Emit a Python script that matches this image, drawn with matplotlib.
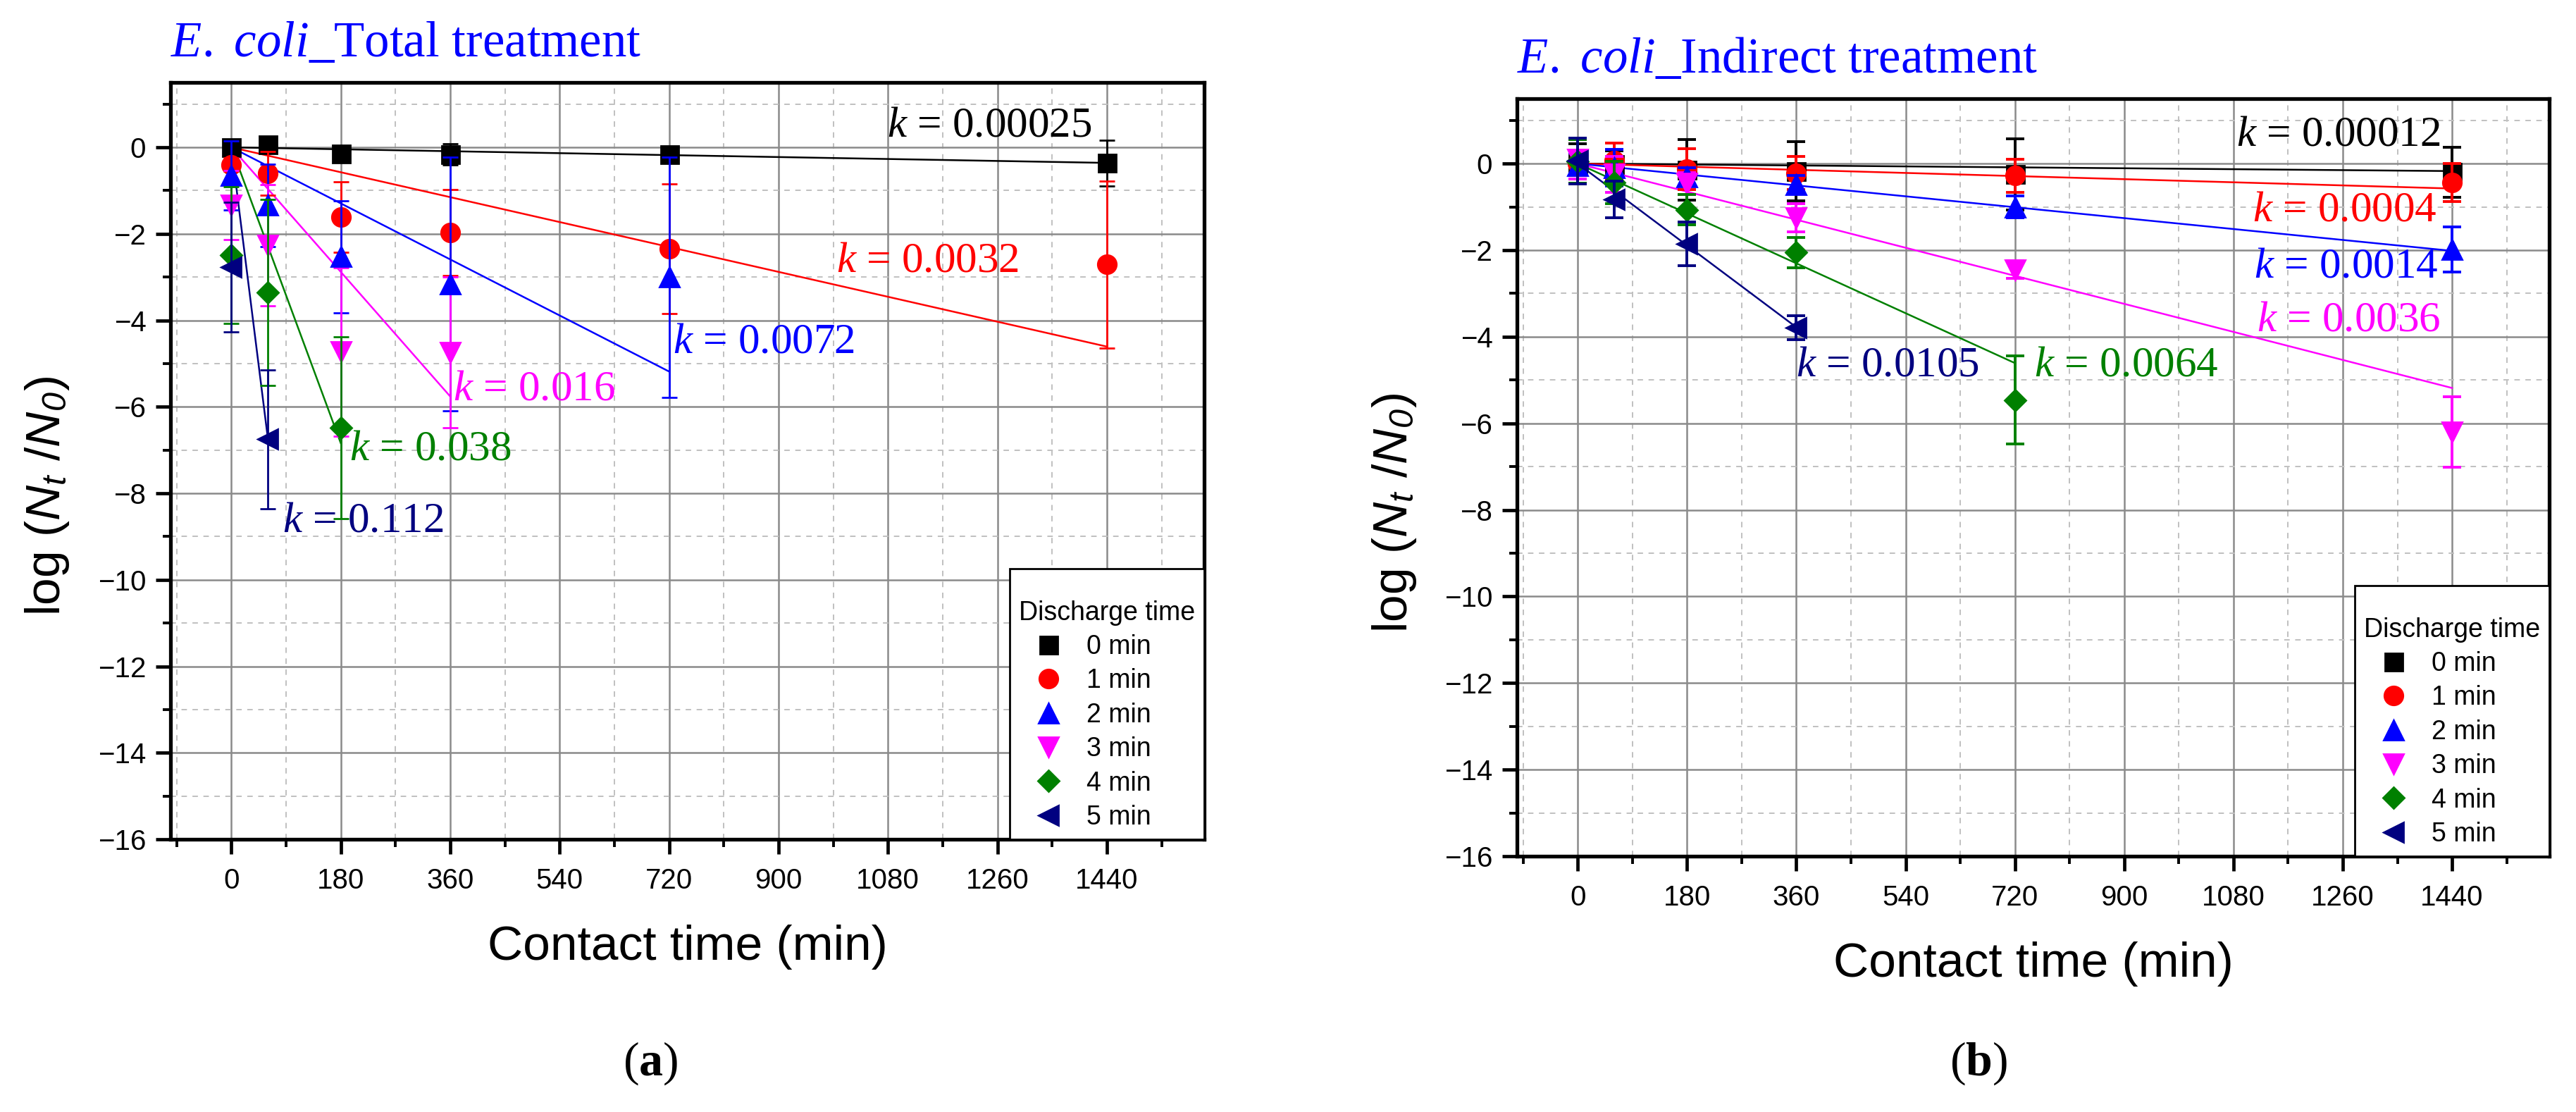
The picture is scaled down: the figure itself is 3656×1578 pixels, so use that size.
import matplotlib
matplotlib.use("Agg")
import matplotlib.pyplot as plt
from matplotlib.lines import Line2D
from matplotlib.ticker import MultipleLocator
import numpy as np

plt.rcParams['font.family'] = ['Liberation Sans', 'DejaVu Sans']
plt.rcParams['mathtext.fontset'] = 'custom'
plt.rcParams['mathtext.rm'] = 'Liberation Serif'
plt.rcParams['mathtext.it'] = 'Liberation Serif:italic'
plt.rcParams['mathtext.bf'] = 'Liberation Serif:bold'
plt.rcParams['mathtext.sf'] = 'Liberation Sans:italic'

# ---------------- data ----------------
series_names = ["0 min", "1 min", "2 min", "3 min", "4 min", "5 min"]

# (a) Total treatment
a_t = [[0, 60, 180, 360, 720, 1440],
       [0, 60, 180, 360, 720, 1440],
       [0, 60, 180, 360, 720],
       [0, 60, 180, 360],
       [0, 60, 180],
       [0, 60]]
a_y = [[0.0, 0.07, -0.15, -0.16, -0.16, -0.36],
       [-0.40, -0.60, -1.61, -1.97, -2.35, -2.71],
       [-0.65, -1.34, -2.53, -3.16, -3.00],
       [-1.34, -2.27, -4.73, -4.74],
       [-2.49, -3.36, -6.48],
       [-2.77, -6.75]]
a_err = [[0.10, 0.10, 0.10, 0.25, 0.10, 0.53],
         [0.15, 0.50, 0.82, 1.00, 1.50, 1.93],
         [0.80, 0.95, 1.30, 2.93, 2.78],
         [0.80, 1.40, 1.95, 1.75],
         [1.58, 2.15, 2.10],
         [1.50, 1.60]]
a_k = [0.00025, 0.0032, 0.0072, 0.016, 0.038, 0.112]
a_k_text = ["0.00025", "0.0032", "0.0072", "0.016", "0.038", "0.112"]

# (b) Indirect treatment
b_t = [[0, 60, 180, 360, 720, 1440],
       [0, 60, 180, 360, 720, 1440],
       [0, 60, 180, 360, 720, 1440],
       [0, 60, 180, 360, 720, 1440],
       [0, 60, 180, 360, 720],
       [0, 60, 180, 360]]
b_y = [[0.0, -0.01, -0.15, -0.18, -0.25, -0.20],
       [0.0, 0.06, -0.13, -0.22, -0.28, -0.44],
       [-0.05, -0.10, -0.30, -0.48, -1.00, -1.98],
       [0.10, -0.25, -0.46, -1.25, -2.45, -6.20],
       [0.05, -0.44, -1.07, -2.05, -5.46],
       [0.06, -0.83, -1.85, -3.79]]
b_err = [[0.45, 0.30, 0.70, 0.68, 0.82, 0.58],
         [0.28, 0.42, 0.47, 0.38, 0.38, 0.44],
         [0.30, 0.42, 0.20, 0.20, 0.25, 0.52],
         [0.45, 0.41, 0.25, 0.33, 0.20, 0.82],
         [0.50, 0.49, 0.35, 0.35, 1.02],
         [0.53, 0.42, 0.50, 0.28]]
b_k = [0.00012, 0.0004, 0.0014, 0.0036, 0.0064, 0.0105]
b_k_text = ["0.00012", "0.0004", "0.0014", "0.0036", "0.0064", "0.0105"]

x_ticks = [0, 180, 360, 540, 720, 900, 1080, 1260, 1440]
y_ticks = [0, -2, -4, -6, -8, -10, -12, -14, -16]

# ---------------- styles / layout ----------------
colors = ["#000000", "#FF0000", "#0000FF", "#FF00FF", "#008000", "#000080"]
markers = ["s", "o", "^", "v", "D", "<"]
msizes = [9.0, 9.5, 10, 10, 7.5, 10]

a_label_pos = [(1079, 0.25), (995, -2.87), (726, -4.75), (365, -5.84), (194, -7.23), (84, -8.88)]
b_label_pos = [(1085, 0.42), (1112, -1.32), (1114, -2.63), (1118, -3.86), (752, -4.90), (360, -4.90)]

W, H = 3656, 1578
fig = plt.figure(figsize=(W / 200, H / 200), dpi=200)
axA = fig.add_axes([242 / W, 1 - 1191 / H, 1467 / W, 1074 / H])
axB = fig.add_axes([2153 / W, 1 - 1215 / H, 1465 / W, 1075 / H])


def style_axes(ax):
    ax.set_xlim(-100, 1600)
    ax.set_ylim(-16, 1.5)
    ax.set_xticks(x_ticks)
    ax.set_yticks(y_ticks)
    ax.xaxis.set_minor_locator(MultipleLocator(90))
    ax.yaxis.set_minor_locator(MultipleLocator(1))
    ax.set_axisbelow(True)
    ax.grid(which='major', color='#8a8a8a', lw=0.9, ls='-')
    ax.grid(which='minor', color='#c0c0c0', lw=0.7, ls=(0, (4, 4)))
    for s in ax.spines.values():
        s.set_linewidth(1.9)
    ax.tick_params(which='major', direction='out', length=7.5, width=1.7,
                   labelsize=14.5, top=False, right=False)
    ax.tick_params(axis='x', which='major', pad=7)
    ax.tick_params(axis='y', which='major', pad=5)
    ax.tick_params(which='minor', direction='out', length=4, width=1.4,
                   top=False, right=False)
    ax.set_xlabel("Contact time (min)", fontsize=25)
    ax.set_ylabel(r"log ($\mathsf{N}_{\mathsf{t}}$ /$\mathsf{N}_{\mathsf{0}}$)", fontsize=25)
    ax.xaxis.set_label_coords(0.5, -0.142)
    ax.xaxis.label.set_va('center')
    ax.yaxis.set_label_coords(-0.119, 0.453)
    ax.yaxis.label.set_va('center')


def draw_panel(ax, ts, ys, errs, ks, ktexts, lpos, capsize, elw, title):
    style_axes(ax)
    for i in range(6):
        t = np.array(ts[i], dtype=float)
        tt = np.array([0.0, t.max()])
        ax.plot(tt, -ks[i] * tt, color=colors[i], lw=0.9, zorder=2)
    for i in range(6):
        ax.errorbar(ts[i], ys[i], yerr=errs[i], fmt=markers[i], color=colors[i],
                    ms=msizes[i], mec=colors[i], ecolor=colors[i], elinewidth=elw,
                    capsize=capsize, capthick=elw, zorder=3 + i * 0.1)
    for i in range(6):
        ax.text(lpos[i][0], lpos[i][1], r"$k$ = " + ktexts[i], color=colors[i],
                fontsize=22, family='Liberation Serif', ha='left', va='baseline',
                zorder=6)
    ax.text(0, 1 + 37 / 1074, title, transform=ax.transAxes, color='#0000FF',
            fontsize=25.5, family='Liberation Serif', ha='left', va='baseline')
    handles = [Line2D([], [], ls='none', marker=markers[i], color=colors[i],
                      mec=colors[i], ms=msizes[i]) for i in range(6)]
    leg = ax.legend(handles, series_names, title="\nDischarge time", loc='lower right',
                    bbox_to_anchor=(1, 0), borderaxespad=0, fontsize=13.5,
                    title_fontsize=13.5, frameon=True, fancybox=False, framealpha=1,
                    edgecolor='black', borderpad=0.35, handlelength=2.24,
                    handletextpad=0.32, labelspacing=0.33, alignment='left')
    leg.get_title().set_linespacing(0.85)
    leg.get_frame().set_linewidth(1.0)
    leg.set_zorder(10)


draw_panel(axA, a_t, a_y, a_err, a_k, a_k_text, a_label_pos, 3.8, 1.0,
           r"$\mathit{E.}$ $\mathit{coli}$_Total treatment")
draw_panel(axB, b_t, b_y, b_err, b_k, b_k_text, b_label_pos, 4.6, 1.4,
           r"$\mathit{E.}$ $\mathit{coli}$_Indirect treatment")

fig.text(923 / W, 1 - 1509 / H, r"($\mathbf{a}$)", fontsize=24.5,
         family='Liberation Serif', ha='center', va='center')
fig.text(2808 / W, 1 - 1509 / H, r"($\mathbf{b}$)", fontsize=24.5,
         family='Liberation Serif', ha='center', va='center')

fig.savefig("out.png", dpi=200)
